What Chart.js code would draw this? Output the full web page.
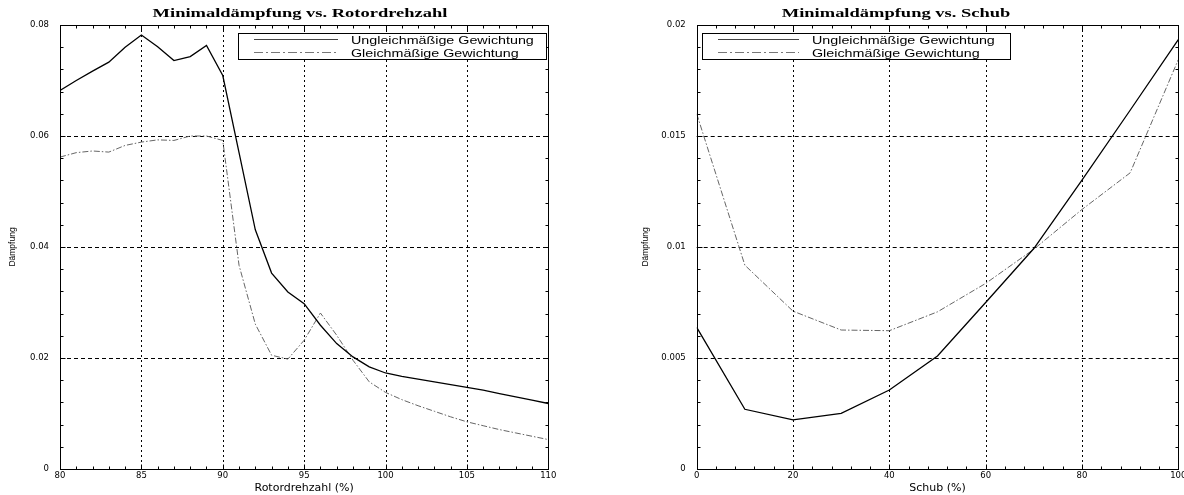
<!DOCTYPE html>
<html><head><meta charset="utf-8">
<script src="https://cdn.jsdelivr.net/npm/chart.js@4/dist/chart.umd.min.js"></script>
<style>
html,body{margin:0;padding:0;background:#fff;width:1184px;height:495px;overflow:hidden;}
canvas{position:absolute;top:0;}
#c1{left:0}
#c2{left:592px}
</style></head><body>
<canvas id="c1" width="592" height="495"></canvas>
<canvas id="c2" width="592" height="495"></canvas>
<script>
// ---- data ----
const seriesLabels = ['Ungleichmäßige Gewichtung', 'Gleichmäßige Gewichtung'];

const rotorTitle = 'Minimaldämpfung vs. Rotordrehzahl';
const rotorXLabel = 'Rotordrehzahl (%)';
const rotorX = [80,81,82,83,84,85,86,87,88,89,90,91,92,93,94,95,96,97,98,99,100,101,102,103,104,105,106,107,108,109,110];
const rotorUngleich = [0.0682,0.0700,0.0717,0.0733,0.0760,0.0782,0.0761,0.0736,0.0743,0.0763,0.0709,0.0570,0.0431,0.0353,0.0319,0.0298,0.0259,0.0226,0.0202,0.0184,0.0173,0.0167,0.0162,0.0157,0.0152,0.0147,0.0142,0.0136,0.0130,0.0124,0.0118];
const rotorGleich = [0.0562,0.0570,0.0573,0.0571,0.0583,0.0589,0.0593,0.0592,0.0600,0.0600,0.0592,0.0367,0.0261,0.0205,0.0198,0.0232,0.0281,0.0241,0.0196,0.0157,0.0138,0.0125,0.0114,0.0104,0.0094,0.0085,0.0078,0.0071,0.0065,0.0059,0.0053];
const rotorXTicks = [80,85,90,95,100,105,110];
const rotorYTicks = [0,0.02,0.04,0.06,0.08];

const schubTitle = 'Minimaldämpfung vs. Schub';
const schubXLabel = 'Schub (%)';
const schubX = [0,10,20,30,40,50,60,70,80,90,100];
const schubUngleich = [0.00638,0.00269,0.00221,0.00251,0.00356,0.00509,0.00750,0.00993,0.01301,0.01616,0.01934];
const schubGleich = [0.0160,0.00918,0.00711,0.00626,0.00623,0.00708,0.00836,0.00990,0.01169,0.01334,0.01844];
const schubXTicks = [0,20,40,60,80,100];
const schubYTicks = [0,0.005,0.01,0.015,0.02];

const yLabel = 'Dämpfung';

// ---- drawing helpers ----
function crisp(v){ return Math.round(v) + 0.5; }
function seg(ctx,x1,y1,x2,y2){ ctx.beginPath(); ctx.moveTo(x1,y1); ctx.lineTo(x2,y2); ctx.stroke(); }

const framePlugin = {
  id: 'frame',
  beforeDatasetsDraw(chart, args, o) {
    const {ctx, chartArea: a, scales: {x, y}} = chart;
    ctx.save();
    ctx.strokeStyle = '#000';
    ctx.lineWidth = 1;
    ctx.setLineDash([2, 3]);
    o.xTicks.slice(1, -1).forEach(v => { const p = crisp(x.getPixelForValue(v)); seg(ctx, p, a.top, p, a.bottom); });
    ctx.setLineDash([4, 3]);
    o.yTicks.slice(1, -1).forEach(v => { const p = crisp(y.getPixelForValue(v)); seg(ctx, a.left, p, a.right, p); });
    ctx.restore();
  },
  afterDatasetsDraw(chart, args, o) {
    const {ctx, chartArea: a, scales: {x, y}} = chart;
    ctx.save();
    ctx.strokeStyle = '#000';
    ctx.lineWidth = 1;
    ctx.setLineDash([]);
    const L = Math.round(a.left) + 0.5, R = Math.round(a.right) + 0.5, T = Math.round(a.top) + 0.5, B = Math.round(a.bottom) + 0.5;
    ctx.strokeRect(L, T, R - L, B - T);
    // ticks
    const xMin = o.xTicks[0], xMax = o.xTicks[o.xTicks.length - 1];
    const yMin = o.yTicks[0], yMax = o.yTicks[o.yTicks.length - 1];
    const isMajor = (arr, v) => arr.some(t => Math.abs(t - v) < 1e-9);
    for (let i = 0; xMin + i * o.xMinor <= xMax + 1e-9; i++) {
      const v = xMin + i * o.xMinor;
      const len = isMajor(o.xTicks, v) ? 5 : 3;
      const p = crisp(x.getPixelForValue(v));
      seg(ctx, p, B, p, B - len); seg(ctx, p, T, p, T + len);
    }
    for (let i = 0; yMin + i * o.yMinor <= yMax + 1e-12; i++) {
      const v = yMin + i * o.yMinor;
      const len = isMajor(o.yTicks, v) ? 5 : 3;
      const p = crisp(y.getPixelForValue(v));
      seg(ctx, L, p, L + len, p); seg(ctx, R, p, R - len, p);
    }
    // title
    ctx.save();
    ctx.translate(o.titleX, 17);
    ctx.scale(1.54, 1);
    ctx.font = 'bold 12px "Liberation Serif"';
    ctx.textAlign = 'center';
    ctx.textBaseline = 'alphabetic';
    ctx.fillStyle = '#000';
    ctx.fillText(o.title, 0, 0);
    ctx.restore();
    // legend
    const lg = o.legend;
    ctx.fillStyle = '#fff';
    ctx.fillRect(lg.left, 33, lg.right - lg.left, 26);
    ctx.strokeRect(lg.left + 0.5, 33.5, lg.right - lg.left, 26);
    chart.data.datasets.forEach((ds, i) => {
      const ly = [39.5, 52.5][i];
      ctx.strokeStyle = ds.legendColor;
      ctx.lineWidth = 1;
      ctx.setLineDash(ds.legendDash || []);
      seg(ctx, lg.left + 16, ly, lg.left + lg.sampleEnd, ly);
      ctx.setLineDash([]);
      ctx.save();
      ctx.translate(lg.left + lg.textX, [43.5, 56.5][i]);
      ctx.scale(1.43, 1);
      ctx.font = '10px "Liberation Sans"';
      ctx.textAlign = 'left';
      ctx.textBaseline = 'alphabetic';
      ctx.fillStyle = '#000';
      ctx.fillText(ds.label, 0, 0);
      ctx.restore();
    });
    ctx.restore();
  }
};

function makeChart(id, cfg) {
  return new Chart(document.getElementById(id), {
    type: 'line',
    data: {
      datasets: [
        { label: seriesLabels[0], data: cfg.xs.map((v, i) => ({x: v, y: cfg.s1[i]})),
          borderColor: '#000', borderWidth: 1.3, pointRadius: 0, tension: 0, legendColor: '#444' },
        { label: seriesLabels[1], data: cfg.xs.map((v, i) => ({x: v, y: cfg.s2[i]})),
          borderColor: '#666', borderWidth: 1, borderDash: [6, 2, 1.5, 2], pointRadius: 0, tension: 0,
          legendColor: '#777', legendDash: [9, 3, 2, 3] }
      ]
    },
    options: {
      responsive: false,
      animation: false,
      layout: { padding: { left: 0, top: 25, right: cfg.padRight, bottom: 0 } },
      plugins: {
        legend: { display: false },
        tooltip: { enabled: false },
        frame: { xTicks: cfg.xTicks, yTicks: cfg.yTicks, xMinor: cfg.xMinor, yMinor: cfg.yMinor,
                 title: cfg.title, titleX: cfg.titleX, legend: cfg.legend }
      },
      scales: {
        x: {
          type: 'linear', min: cfg.xTicks[0], max: cfg.xTicks[cfg.xTicks.length - 1],
          grid: { display: false, drawTicks: false, tickLength: 0 }, border: { display: false },
          afterBuildTicks: s => { s.ticks = cfg.xTicks.map(v => ({value: v})); },
          afterFit: s => { s.height = 26; s.paddingLeft = 0; s.paddingRight = 0; },
          ticks: { autoSkip: false, maxRotation: 0, padding: 2, color: '#000',
                   font: { family: "'DejaVu Sans'", size: 8.5 }, callback: v => String(v) },
          title: { display: true, text: cfg.xLabel, color: '#000', padding: 0,
                   font: { family: "'DejaVu Sans'", size: 11 } }
        },
        y: {
          type: 'linear', min: cfg.yTicks[0], max: cfg.yTicks[cfg.yTicks.length - 1],
          grid: { display: false, drawTicks: false, tickLength: 0 }, border: { display: false },
          afterBuildTicks: s => { s.ticks = cfg.yTicks.map(v => ({value: v})); },
          afterFit: s => { s.width = cfg.yWidth; s.paddingTop = 0; s.paddingBottom = 0; },
          ticks: { autoSkip: false, padding: 11, color: '#000',
                   font: { family: "'DejaVu Sans'", size: 8.5 },
                   callback: v => v === 0 ? '0' : String(+v.toFixed(4)) },
          title: { display: true, text: yLabel, color: '#000', padding: { top: cfg.yTitlePad, bottom: 0 },
                   font: { family: "'Liberation Sans'", size: 8.5 } }
        }
      }
    },
    plugins: [framePlugin]
  });
}

makeChart('c1', {
  xs: rotorX, s1: rotorUngleich, s2: rotorGleich, xTicks: rotorXTicks, yTicks: rotorYTicks,
  xMinor: 1, yMinor: 0.004, title: rotorTitle, titleX: 300, xLabel: rotorXLabel,
  yWidth: 60, padRight: 43.7, yTitlePad: 7.2,
  legend: { left: 238, right: 546, sampleEnd: 100, textX: 113 }
});
makeChart('c2', {
  xs: schubX, s1: schubUngleich, s2: schubGleich, xTicks: schubXTicks, yTicks: schubYTicks,
  xMinor: 4, yMinor: 0.001, title: schubTitle, titleX: 304, xLabel: schubXLabel,
  yWidth: 104.7, padRight: 5.7, yTitlePad: 48.5,
  legend: { left: 110, right: 418, sampleEnd: 97, textX: 110 }
});
</script>
</body></html>
